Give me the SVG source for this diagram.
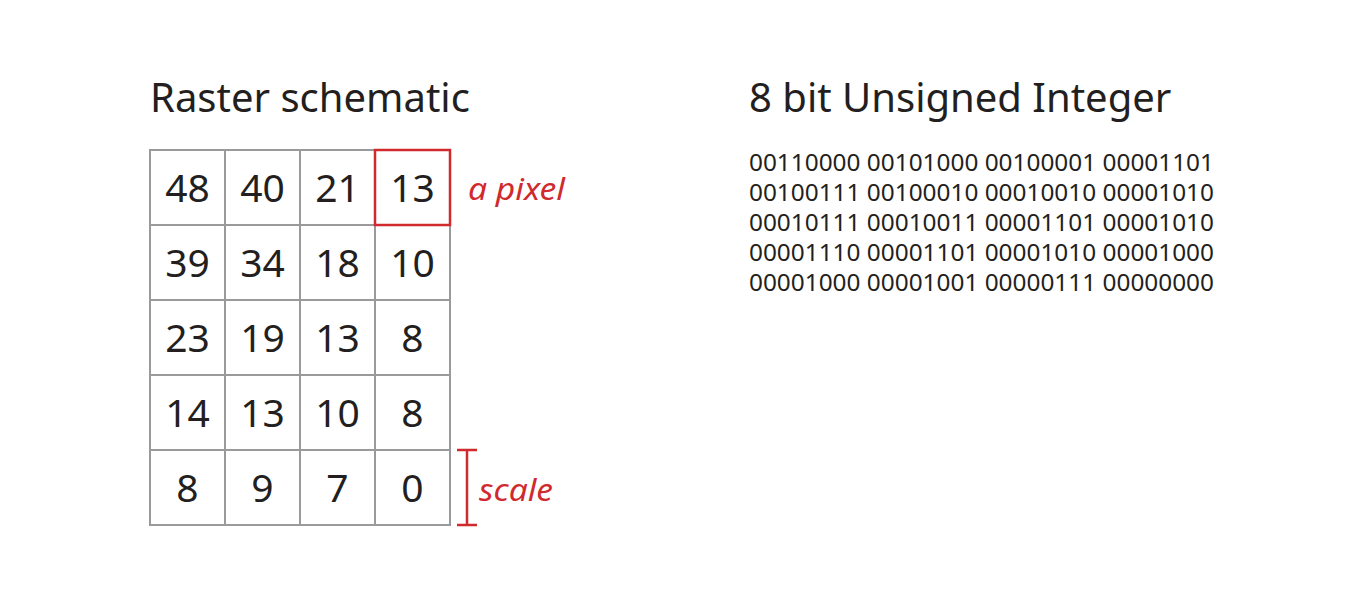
<svg xmlns="http://www.w3.org/2000/svg" width="1350" height="600" viewBox="0 0 1350 600">
<style>
.title{font-family:"Noto Sans","Liberation Sans",sans-serif;font-size:40px;fill:#231f20}
.num{font-family:"Noto Sans","Liberation Sans",sans-serif;font-size:39px;fill:#231f20;text-anchor:middle}
.bin{font-family:"Noto Sans","Liberation Sans",sans-serif;font-size:24px;fill:#231f20}
.red{font-family:"Noto Sans","Liberation Sans",sans-serif;font-size:31px;font-style:italic;fill:#d12a2e}
.grid{fill:none;stroke:#9a999b;stroke-width:2}
.redline{fill:none;stroke:#d12a2e;stroke-width:2.5}
</style>
<rect width="1350" height="600" fill="#fff"/>
<text class="title" x="150" y="112">Raster schematic</text>
<text class="title" x="749" y="112">8 bit Unsigned Integer</text>
<g id="grid">
<rect class="grid" x="150" y="150" width="300" height="375"/>
<path class="grid" d="M225 150V525M300 150V525M375 150V525M150 225H450M150 300H450M150 375H450M150 450H450"/>
<g class="num">
<text class="num" x="187.5" y="202">48</text><text class="num" x="262.5" y="202">40</text><text class="num" x="337.5" y="202">21</text><text class="num" x="412.5" y="202">13</text>
<text class="num" x="187.5" y="277">39</text><text class="num" x="262.5" y="277">34</text><text class="num" x="337.5" y="277">18</text><text class="num" x="412.5" y="277">10</text>
<text class="num" x="187.5" y="352">23</text><text class="num" x="262.5" y="352">19</text><text class="num" x="337.5" y="352">13</text><text class="num" x="412.5" y="352">8</text>
<text class="num" x="187.5" y="427">14</text><text class="num" x="262.5" y="427">13</text><text class="num" x="337.5" y="427">10</text><text class="num" x="412.5" y="427">8</text>
<text class="num" x="187.5" y="502">8</text><text class="num" x="262.5" y="502">9</text><text class="num" x="337.5" y="502">7</text><text class="num" x="412.5" y="502">0</text>
</g>
</g>
<g id="pixel">
<rect class="redline" x="375" y="150" width="75" height="75"/>
<text class="red" x="468" y="200" textLength="97" lengthAdjust="spacingAndGlyphs">a pixel</text>
</g>
<g id="scale">
<path class="redline" d="M467 450V525M457 450H477M457 525H477"/>
<text class="red" x="479" y="501" textLength="74" lengthAdjust="spacingAndGlyphs">scale</text>
</g>
<g id="binary" class="bin">
<text class="bin" x="749" y="171" textLength="465" lengthAdjust="spacingAndGlyphs">00110000 00101000 00100001 00001101</text>
<text class="bin" x="749" y="201" textLength="465" lengthAdjust="spacingAndGlyphs">00100111 00100010 00010010 00001010</text>
<text class="bin" x="749" y="231" textLength="465" lengthAdjust="spacingAndGlyphs">00010111 00010011 00001101 00001010</text>
<text class="bin" x="749" y="261" textLength="465" lengthAdjust="spacingAndGlyphs">00001110 00001101 00001010 00001000</text>
<text class="bin" x="749" y="291" textLength="465" lengthAdjust="spacingAndGlyphs">00001000 00001001 00000111 00000000</text>
</g>
</svg>
